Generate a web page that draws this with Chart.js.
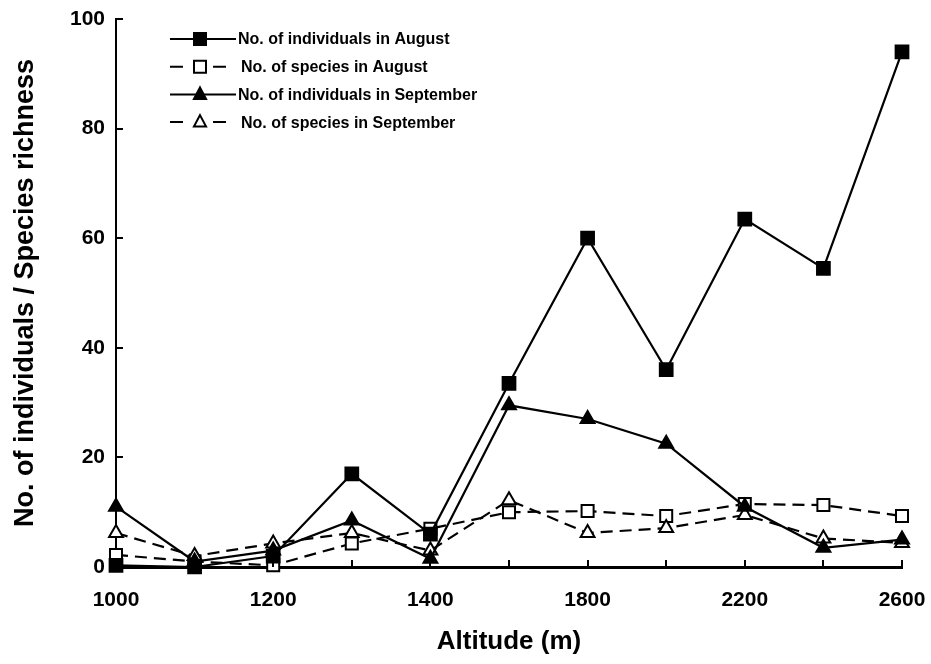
<!DOCTYPE html>
<html>
<head>
<meta charset="utf-8">
<script src="https://cdn.jsdelivr.net/npm/chart.js@4/dist/chart.umd.min.js"></script>
<style>
  html, body { margin: 0; padding: 0; background: #fff; }
  #wrap { width: 931px; height: 664px; position: relative; }
</style>
</head>
<body>
<div id="wrap"><canvas id="c" width="931" height="664"></canvas></div>
<script>
// ---- data ----
const altitudes = ['1000','1100','1200','1300','1400','1600','1800','2000','2200','2400','2600'];
const individualsAugust = [0.3, 0, 2, 17, 6, 33.5, 60, 36, 63.5, 54.5, 94];
const speciesAugust = [2.2, 1, 0.3, 4.3, 7, 10, 10.2, 9.3, 11.5, 11.3, 9.3];
const individualsSeptember = [11, 1, 3, 8.5, 1.5, 29.5, 27, 22.5, 11, 3.5, 5];
const speciesSeptember = [6.2, 2, 4.3, 6.2, 3, 12.2, 6.2, 7.1, 9.5, 5.2, 4.4];
const seriesNames = ['No. of individuals in August', 'No. of species in August', 'No. of individuals in September', 'No. of species in September'];
const yTicks = [0, 20, 40, 60, 80, 100];

const FONT = "'Liberation Sans', Arial, sans-serif";
const DASH = [12, 7];

function ds(label, data, style, filled, dashed, radius) {
  return {
    label, data,
    borderColor: '#000', borderWidth: 2.2, borderDash: dashed ? DASH : [],
    pointStyle: style, pointRadius: radius, pointHoverRadius: radius,
    pointBackgroundColor: filled ? '#000' : '#fff', pointBorderColor: '#000', pointBorderWidth: 2,
    fill: false, tension: 0, clip: false
  };
}

const datasets = [
  ds(seriesNames[0], individualsAugust, 'rect', true, false, 9),
  ds(seriesNames[2], individualsSeptember, 'triangle', true, false, 8),
  ds(seriesNames[3], speciesSeptember, 'triangle', false, true, 8),
  ds(seriesNames[1], speciesAugust, 'rect', false, true, 8.5)
];

// inward tick marks
const innerTicks = {
  id: 'innerTicks',
  afterDraw(chart) {
    const ctx = chart.ctx, x = chart.scales.x, y = chart.scales.y;
    const a = chart.chartArea;
    ctx.save();
    ctx.strokeStyle = '#000';
    ctx.lineWidth = 2;
    ctx.setLineDash([]);
    for (let i = 0; i < altitudes.length; i++) {
      const px = Math.round(x.getPixelForTick(i));
      ctx.beginPath(); ctx.moveTo(px, a.bottom); ctx.lineTo(px, a.bottom - 7); ctx.stroke();
    }
    yTicks.forEach(v => {
      const py = Math.round(y.getPixelForValue(v));
      ctx.beginPath(); ctx.moveTo(a.left, py); ctx.lineTo(a.left + 7, py); ctx.stroke();
    });
    ctx.restore();
  }
};

// legend drawn inside plot area
const innerLegend = {
  id: 'innerLegend',
  afterDraw(chart) {
    const ctx = chart.ctx;
    const map = {0: datasets[0], 1: datasets[3], 2: datasets[1], 3: datasets[2]};
    ctx.save();
    for (let i = 0; i < 4; i++) {
      const d = map[i];
      const yy = 39 + i * 27.7;
      const dashed = d.borderDash.length > 0;
      ctx.strokeStyle = '#000'; ctx.lineWidth = 2; ctx.setLineDash([]);
      ctx.beginPath();
      if (dashed) {
        ctx.moveTo(170, yy); ctx.lineTo(183, yy);
        ctx.moveTo(213, yy); ctx.lineTo(226, yy);
      } else {
        ctx.moveTo(170, yy); ctx.lineTo(236, yy);
      }
      ctx.stroke();
      const mx = 200;
      ctx.fillStyle = d.pointBackgroundColor;
      ctx.beginPath();
      if (d.pointStyle === 'rect') {
        const s = 6;
        ctx.rect(mx - s, yy - s, 2 * s, 2 * s);
      } else {
        const r = 7;
        ctx.moveTo(mx, yy - r);
        ctx.lineTo(mx + r * 0.866, yy + r * 0.5 + 1);
        ctx.lineTo(mx - r * 0.866, yy + r * 0.5 + 1);
        ctx.closePath();
      }
      ctx.fill(); ctx.stroke();
      ctx.fillStyle = '#000';
      ctx.font = 'bold 16px ' + FONT;
      ctx.textBaseline = 'middle';
      ctx.textAlign = 'left';
      ctx.fillText(seriesNames[i], dashed ? 241 : 238, yy + 1);
    }
    ctx.restore();
  }
};

new Chart(document.getElementById('c'), {
  type: 'line',
  data: { labels: altitudes, datasets },
  plugins: [innerTicks, innerLegend],
  options: {
    responsive: false,
    animation: false,
    layout: { padding: { left: 0, right: 29, top: 19, bottom: 0 } },
    plugins: { legend: { display: false }, tooltip: { enabled: false } },
    scales: {
      x: {
        type: 'category',
        offset: false,
        border: { display: true, color: '#000', width: 3 },
        grid: { display: true, drawOnChartArea: false, drawTicks: false },
        ticks: {
          autoSkip: false, maxRotation: 0, padding: 21, color: '#000',
          font: { family: FONT, size: 21, weight: 'bold' },
          callback: function(v, i) { return i % 2 === 0 ? altitudes[i] : ''; }
        },
        title: {
          display: true, text: 'Altitude (m)', color: '#000',
          font: { family: FONT, size: 26, weight: 'bold' },
          padding: { top: 0, bottom: 7 }
        },
        afterFit(scale) { scale.height = 97; scale.paddingLeft = 0; scale.paddingRight = 0; }
      },
      y: {
        min: 0, max: 100,
        border: { display: true, color: '#000', width: 2 },
        grid: { display: true, drawOnChartArea: false, drawTicks: false },
        afterBuildTicks(scale) { scale.ticks = yTicks.map(v => ({ value: v })); },
        ticks: {
          padding: 11, color: '#000',
          font: { family: FONT, size: 21, weight: 'bold' }
        },
        title: {
          display: true, text: 'No. of individuals / Species richness', color: '#000',
          font: { family: FONT, size: 27, weight: 'bold' },
          padding: { top: 9, bottom: 0 }
        },
        afterFit(scale) { scale.width = 116; scale.paddingTop = 0; scale.paddingBottom = 0; }
      }
    }
  }
});
</script>
</body>
</html>
